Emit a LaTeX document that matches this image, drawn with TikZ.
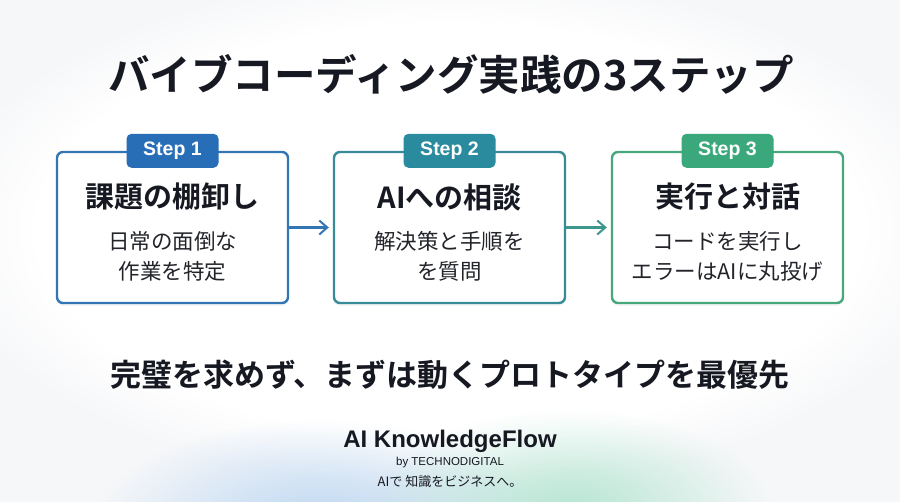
\documentclass[tikz,border=0pt]{standalone}
\usepackage{fontspec}
\setmainfont{Noto Sans CJK JP}[BoldFont={Noto Sans CJK JP Bold}]
\newfontfamily\latinsans{Liberation Sans}
\usepackage{xcolor}
\usetikzlibrary{arrows.meta,shadows,fadings}
\tikzfading[name=softglow,inner color=transparent!0,outer color=transparent!100]
\definecolor{bgpaper}{RGB}{246,247,249}
\definecolor{inkdark}{RGB}{22,24,34}
\definecolor{inkbody}{RGB}{34,36,42}
\definecolor{stepblue}{RGB}{52,118,180}
\definecolor{stepteal}{RGB}{55,140,152}
\definecolor{stepgreen}{RGB}{70,168,124}
\definecolor{tabblue}{RGB}{40,110,182}
\definecolor{tabteal}{RGB}{42,138,158}
\definecolor{tabgreen}{RGB}{58,168,122}
\definecolor{blobblue}{RGB}{170,205,240}
\definecolor{blobgreen}{RGB}{165,225,200}
\tikzset{
  stepbox/.style={draw=#1,line width=2.4pt,rounded corners=6pt,fill=white,minimum width=231pt,minimum height=151pt,
    drop shadow={opacity=0.08,shadow xshift=0pt,shadow yshift=-3pt}},
  steptab/.style={fill=#1,rounded corners=5pt,minimum width=92pt,minimum height=34pt,inner sep=0pt,
    text=white,font=\latinsans\fontsize{19.5}{22}\selectfont\bfseries},
  headtxt/.style={text=inkdark,font=\fontsize{29}{32}\selectfont\bfseries},
  bodytxt/.style={text=inkbody,align=center,font=\fontsize{21.5}{30}\selectfont},
  flowarr/.style={-{Straight Barb[length=8pt,width=14pt,line width=2pt]},line width=2.4pt,shorten >=4pt},
}

\begin{document}
\begin{tikzpicture}[x=1pt,y=-1pt]
  \useasboundingbox (0,0) rectangle (900,502);
  \fill[bgpaper] (0,0) rectangle (900,502);
  \fill[white,path fading=circle with fuzzy edge 20 percent] (450,230) ellipse (520 and 260);
  % soft glow behind the footer
  \fill[blobblue,opacity=0.8,path fading=softglow] (320,530) ellipse (230 and 110);
  \fill[blobgreen,opacity=0.8,path fading=softglow] (570,510) ellipse (200 and 100);

  \node[text=inkdark,font=\fontsize{41.5}{46}\selectfont\bfseries] (title) at (451,74) {バイブコーディング実践の3ステップ};

  % three steps
  \node[stepbox=stepblue] (box1) at (172.5,227.5) {};
  \node[stepbox=stepteal] (box2) at (449.5,227.5) {};
  \node[stepbox=stepgreen] (box3) at (727.5,227.5) {};

  \node[steptab=tabblue] (tab1) at (box1.north) {Step 1};
  \node[steptab=tabteal] (tab2) at (box2.north) {Step 2};
  \node[steptab=tabgreen] (tab3) at (box3.north) {Step 3};

  \node[headtxt] (head1) at (172.5,197) {課題の棚卸し};
  \node[headtxt] (head2) at (449.5,197) {AIへの相談};
  \node[headtxt] (head3) at (727.5,197) {実行と対話};

  \node[bodytxt] (body1) at (172.5,256) {日常の面倒な\\作業を特定};
  \node[bodytxt] (body2) at (449.5,256) {解決策と手順を\\を質問};
  \node[bodytxt] (body3) at (727.5,256) {コードを実行し\\エラーはAIに丸投げ};

  \draw[flowarr,draw=stepblue] (box1.east) -- (box2.west);
  \draw[flowarr,draw=stepteal!60!stepgreen] (box2.east) -- (box3.west);

  \node[text=inkdark,font=\fontsize{31}{35}\selectfont\bfseries] (motto) at (450,375) {完璧を求めず、まずは動くプロトタイプを最優先};

  % footer
  \node[text=inkdark,font=\latinsans\fontsize{24}{27}\selectfont\bfseries] (brand) at (450,441) {AI KnowledgeFlow};
  \node[text=inkdark,font=\latinsans\fontsize{11.5}{13}\selectfont] (maker) at (450,463) {by TECHNODIGITAL};
  \node[text=inkdark,font=\fontsize{13}{15}\selectfont] (slogan) at (450,482) {AIで 知識をビジネスへ。};
\end{tikzpicture}
\end{document}
